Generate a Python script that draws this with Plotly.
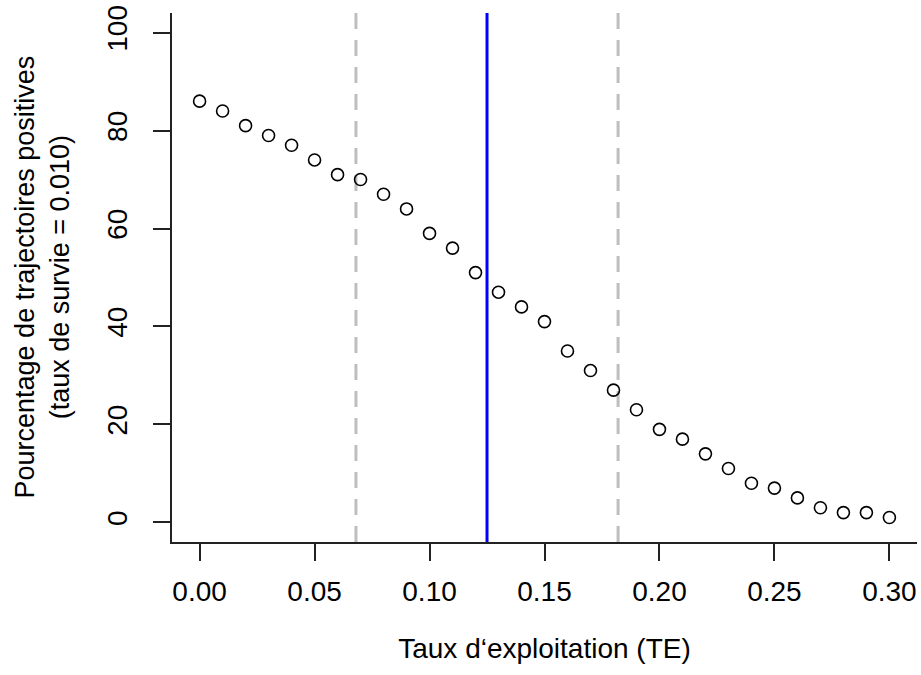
import plotly.graph_objects as go

# Data
te = [0.00, 0.01, 0.02, 0.03, 0.04, 0.05, 0.06, 0.07, 0.08, 0.09, 0.10,
      0.11, 0.12, 0.13, 0.14, 0.15, 0.16, 0.17, 0.18, 0.19, 0.20,
      0.21, 0.22, 0.23, 0.24, 0.25, 0.26, 0.27, 0.28, 0.29, 0.30]
pct = [86, 84, 81, 79, 77, 74, 71, 70, 67, 64, 59,
       56, 51, 47, 44, 41, 35, 31, 27, 23, 19,
       17, 14, 11, 8, 7, 5, 3, 2, 2, 1]
ci_lines = [0.068, 0.182]
central_line = 0.125
x_ticks = [0.00, 0.05, 0.10, 0.15, 0.20, 0.25, 0.30]
y_ticks = [0, 20, 40, 60, 80, 100]
x_title = "Taux d\u2018exploitation (TE)"
y_title = "Pourcentage de trajectoires positives<br>(taux de survie = 0.010)"

FONT = "Liberation Sans, Arial, Helvetica, sans-serif"

fig = go.Figure()
fig.add_trace(go.Scatter(
    x=te, y=pct, mode="markers",
    marker=dict(symbol="circle-open", size=12, color="black",
                line=dict(width=1.6, color="black")),
    showlegend=False, hoverinfo="x+y"))

for xv in ci_lines:
    fig.add_shape(type="line", x0=xv, x1=xv, y0=0, y1=1, xref="x", yref="paper",
                  line=dict(color="#BEBEBE", width=3, dash="16px,11px"), layer="below")
fig.add_shape(type="line", x0=central_line, x1=central_line, y0=0, y1=1,
              xref="x", yref="paper", line=dict(color="#0000FF", width=3), layer="below")

fig.add_annotation(text=y_title, textangle=-90, xref="paper", yref="paper",
                   x=0, y=0.5, xanchor="center", yanchor="middle", xshift=-130,
                   showarrow=False, font=dict(family=FONT, size=27, color="black"))

fig.update_layout(
    width=921, height=675,
    margin=dict(l=172, r=4, t=13, b=133),
    paper_bgcolor="white", plot_bgcolor="white",
    font=dict(family=FONT, size=28, color="black"),
    xaxis=dict(range=[-0.012, 0.312], tickvals=x_ticks,
               ticktext=[f"{v:.2f}" for v in x_ticks],
               showgrid=False, zeroline=False, showline=True, linecolor="#222",
               linewidth=1.5, ticks="outside", ticklen=17, tickwidth=1.5, tickcolor="#222",
               ticklabelstandoff=7,
               title=dict(text=x_title, standoff=32, font=dict(size=28))),
    yaxis=dict(range=[-4, 104], tickvals=y_ticks, tickangle=-90,
               showgrid=False, zeroline=False, showline=True, linecolor="#222",
               linewidth=1.5, ticks="outside", ticklen=17, tickwidth=1.5, tickcolor="#222",
               ticklabelstandoff=15),
)

fig.write_html("out.html")
